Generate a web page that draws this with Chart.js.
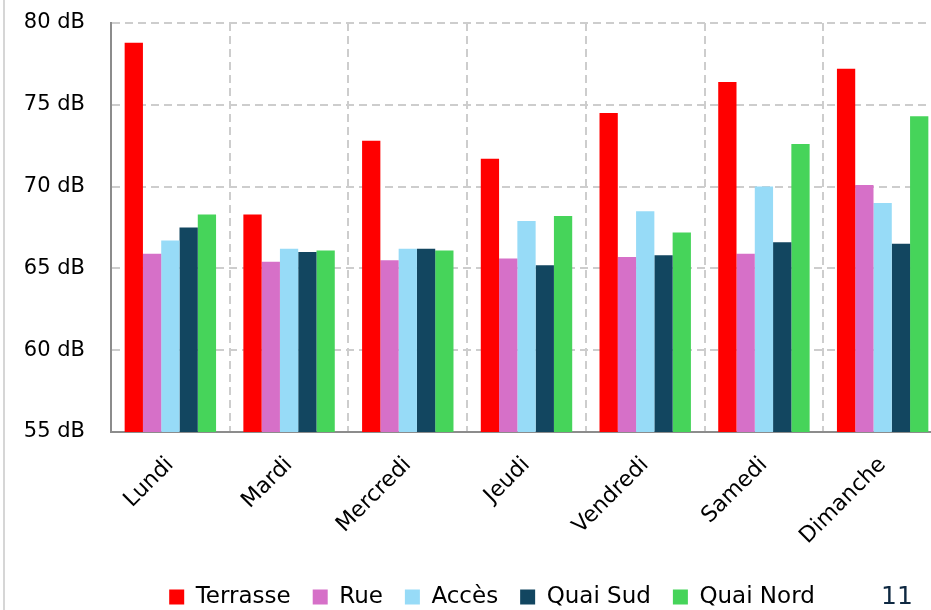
<!DOCTYPE html>
<html>
<head>
<meta charset="utf-8">
<script src="https://cdn.jsdelivr.net/npm/chart.js@4.4.1/dist/chart.umd.min.js"></script>
<style>
	html, body { margin: 0; padding: 0; width: 931px; height: 610px; overflow: hidden; background: #fff; }
	#wrap { position: relative; width: 931px; height: 610px; overflow: hidden; }
	#frame { position: absolute; left: 3px; top: 0; width: 2px; height: 610px; background: #d6d6d6; }
	#page { position: absolute; left: 881px; top: 581px; font: 25px "DejaVu Sans"; color: #0e2841; }
	canvas { position: absolute; left: 0; top: 0; }
</style>
</head>
<body>
<div id="wrap">
	<canvas id="chart" width="980" height="620" style="width:980px;height:620px"></canvas>
	<div id="frame"></div>
	<div id="page">11</div>
</div>
<script>
const days = ['Lundi', 'Mardi', 'Mercredi', 'Jeudi', 'Vendredi', 'Samedi', 'Dimanche'];
const terrasse = [78.8, 68.3, 72.8, 71.7, 74.5, 76.4, 77.2];
const rue = [65.9, 65.4, 65.5, 65.6, 65.7, 65.9, 70.1];
const acces = [66.7, 66.2, 66.2, 67.9, 68.5, 70.0, 69.0];
const quaiSud = [67.5, 66.0, 66.2, 65.2, 65.8, 66.6, 66.5];
const quaiNord = [68.3, 66.1, 66.1, 68.2, 67.2, 72.6, 74.3];
const yMin = 55, yMax = 80, yStep = 5;

const font = 'DejaVu Sans';
const gridColor = '#cdcdcd';

var ctx = document.getElementById('chart').getContext('2d');
var myChart = new Chart(ctx, {
	type: 'bar',
	data: {
		labels: days,
		datasets: [
			{ label: 'Terrasse', data: terrasse, backgroundColor: '#ff0000' },
			{ label: 'Rue', data: rue, backgroundColor: '#d670c8' },
			{ label: 'Accès', data: acces, backgroundColor: '#97dbf7' },
			{ label: 'Quai Sud', data: quaiSud, backgroundColor: '#124660' },
			{ label: 'Quai Nord', data: quaiNord, backgroundColor: '#46d45a' },
		],
	},
	options: {
		responsive: false,
		animation: false,
		datasets: {
			bar: { categoryPercentage: 0.77, barPercentage: 1.0 },
		},
		layout: {
			padding: { left: 20, right: 16, top: 23, bottom: 1.5 },
		},
		plugins: {
			tooltip: { enabled: false },
			legend: {
				position: 'bottom',
				labels: {
					boxWidth: 15,
					boxHeight: 15,
					padding: 22,
					color: '#000',
					font: { family: font, size: 23 },
				},
			},
		},
		scales: {
			x: {
				grid: { color: gridColor, lineWidth: 2, drawTicks: false },
				border: { color: '#8c8c8c', width: 2, dash: [8, 5] },
				ticks: {
					color: '#000',
					font: { family: font, size: 22 },
					minRotation: 45,
					maxRotation: 45,
					padding: 20,
				},
				afterFit: s => { s.height = 131.5; },
			},
			y: {
				min: yMin,
				max: yMax,
				// invisible tick marks give the gap between labels and axis
				grid: { color: gridColor, lineWidth: 2, tickLength: 23, tickColor: 'rgba(0,0,0,0)' },
				border: { color: '#8c8c8c', width: 2, dash: [8, 5] },
				ticks: {
					stepSize: yStep,
					color: '#000',
					padding: 3,
					font: { family: font, size: 21 },
					callback: v => v + ' dB',
				},
				afterFit: s => { s.width = 91; },
			},
			// empty right-hand axis: only reserves room so the legend sits centred like the original
			side: {
				position: 'right',
				grid: { display: false },
				border: { display: false },
				ticks: { display: false },
				afterFit: s => { s.width = 22; },
			},
		},
	},
});
</script>
</body>
</html>
